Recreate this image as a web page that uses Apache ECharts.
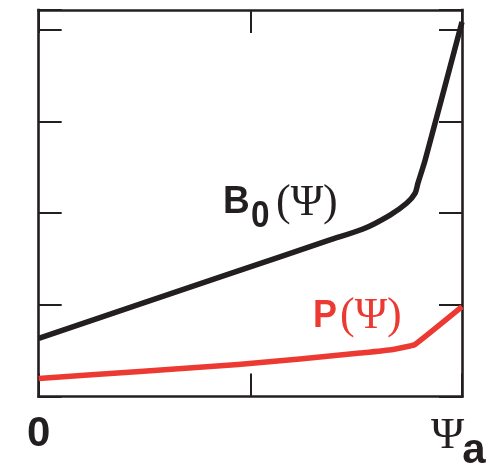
<!DOCTYPE html>
<html>
<head>
<meta charset="utf-8">
<style>
  html, body { margin: 0; padding: 0; background: #ffffff; }
  #chart { width: 486px; height: 463px; }
</style>
<script src="https://cdn.jsdelivr.net/npm/echarts@6/dist/echarts.min.js"></script>
</head>
<body>
<div id="chart"></div>
<script>
// Normalised flux coordinate (0 at the axis, 1 at the edge Ψa)
const bPsi    = [0, 0.452, 0.688, 0.766, 0.830, 0.869, 0.889, 0.896, 0.913, 1.0];
const bValues = [0.635, 1.340, 1.707, 1.826, 1.979, 2.107, 2.215, 2.328, 2.579, 4.084];

const pPsi    = [0, 0.239, 0.471, 0.617, 0.759, 0.837, 0.877, 0.889, 1.0];
const pValues = [0.196, 0.273, 0.349, 0.409, 0.474, 0.513, 0.551, 0.567, 0.98];

// Tick labels on the Ψ axis
const psiTickLabels = ['0', 'Ψ', 'a'];
// Curve labels
const bLabel = ['B', '0', '(Ψ)'];
const pLabel = ['P', '(Ψ)'];

const INK = '#231f20';
const RED = '#ec3a33';
const SANS = '"Liberation Sans", Arial, sans-serif';
const SERIF = '"Liberation Serif", "Times New Roman", serif';

const chart = echarts.init(document.getElementById('chart'), null, { renderer: 'canvas' });

const pairs = (xs, ys) => xs.map((x, i) => [x, ys[i]]);

const tickStyle = { show: true, inside: true, length: 23, lineStyle: { color: INK, width: 2 } };
const frameLine = { show: true, onZero: false, lineStyle: { color: INK, width: 2.6, cap: 'square' } };

const psiAxis = (pos) => ({
  type: 'value', position: pos, min: 0, max: 1, interval: 0.5,
  axisLine: frameLine, splitLine: { show: false }, axisLabel: { show: false }, axisTick: tickStyle
});
const valAxis = (pos) => ({
  type: 'value', position: pos, min: 0, max: 4.215, interval: 1,
  axisLine: frameLine, splitLine: { show: false }, axisLabel: { show: false }, axisTick: tickStyle
});

chart.setOption({
  animation: false,
  backgroundColor: '#ffffff',
  grid: { left: 38.7, right: 24, top: 10, bottom: 66.5, show: false },
  xAxis: [psiAxis('bottom'), psiAxis('top')],
  yAxis: [valAxis('left'), valAxis('right')],
  series: [
    { type: 'line', name: 'B0', data: pairs(bPsi, bValues), symbol: 'none', smooth: 0.25,
      lineStyle: { color: INK, width: 5.5, cap: 'butt', join: 'round' }, z: 3 },
    { type: 'line', name: 'P', data: pairs(pPsi, pValues), symbol: 'none', smooth: 0.2,
      lineStyle: { color: RED, width: 5.5, cap: 'butt', join: 'round' }, z: 3 }
  ]
});

// Place the axis-end labels relative to the axis ends
const origin = chart.convertToPixel({ xAxisIndex: 0, yAxisIndex: 0 }, [0, 0]);
const edge = chart.convertToPixel({ xAxisIndex: 0, yAxisIndex: 0 }, [1, 0]);

const txt = (text, x, y, font, size, color, align, weight, sx) => ({
  type: 'text', x: x, y: y, z: 10, scaleX: sx || 1,
  style: { text: text, fill: color, fontFamily: font, fontSize: size, fontWeight: weight || 'normal',
           align: align || 'left', verticalAlign: 'middle' }
});

chart.setOption({
  graphic: [
    txt(psiTickLabels[0], origin[0], origin[1] + 38, SANS, 42, INK, 'center', 'bold'),
    txt(psiTickLabels[1], edge[0] - 14.5, origin[1] + 40, SERIF, 45, INK, 'center'),
    txt(psiTickLabels[2], edge[0] + 12, origin[1] + 55, SANS, 42, INK, 'center', 'bold'),

    txt(bLabel[0], 223, 202.5, SANS, 39, INK, 'left', 'bold', 0.95),
    txt(bLabel[1], 251, 216.5, SANS, 37, INK, 'left', 'bold', 0.9),
    txt(bLabel[2], 276, 203, SERIF, 44, INK, 'left'),

    txt(pLabel[0], 313, 316, SANS, 39, RED, 'left', 'bold', 0.92),
    txt(pLabel[1], 340, 316, SERIF, 44, RED, 'left')
  ]
});
</script>
</body>
</html>
